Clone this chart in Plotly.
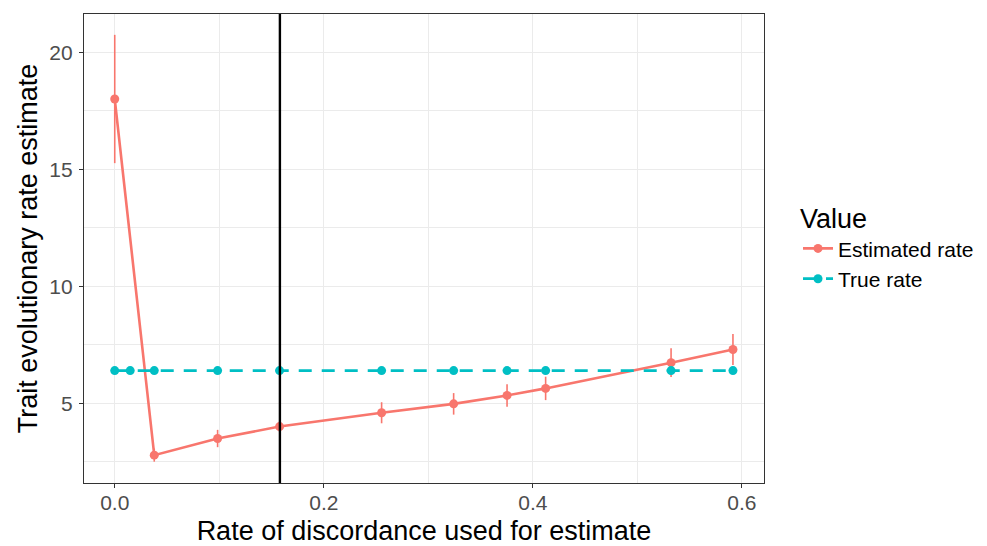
import plotly.graph_objects as go

# ---- data ----
est_x = [0.0, 0.0378, 0.0984, 0.1577, 0.2553, 0.3242, 0.3753, 0.4122, 0.5322, 0.5914]
est_y = [18.0, 2.79, 3.50, 4.01, 4.60, 4.98, 5.34, 5.64, 6.74, 7.30]
est_err = [2.74, 0.28, 0.37, 0.22, 0.45, 0.46, 0.48, 0.50, 0.61, 0.66]

true_x = [0.0, 0.0148, 0.0378, 0.0984, 0.1577, 0.2553, 0.3242, 0.3753, 0.4122, 0.5322, 0.5914]
true_y = [6.4] * len(true_x)

chosen_rate = 0.158

x_ticks = [0.0, 0.2, 0.4, 0.6]
x_ticklabels = ["0.0", "0.2", "0.4", "0.6"]
y_ticks = [5, 10, 15, 20]

RED = "#F8766D"
TEAL = "#00BFC4"
FONT = "Liberation Sans, Arial, Helvetica, sans-serif"

fig = go.Figure()
fig.add_trace(go.Scatter(
    x=est_x, y=est_y, name="Estimated rate", mode="lines+markers",
    line=dict(color=RED, width=2.6),
    marker=dict(color=RED, size=9),
    error_y=dict(type="data", array=est_err, visible=True, color=RED, thickness=1.6, width=0),
))
fig.add_trace(go.Scatter(
    x=true_x, y=true_y, name="True rate", mode="lines+markers",
    line=dict(color=TEAL, width=2.8, dash="13px,10px"),
    marker=dict(color=TEAL, size=9),
))

fig.add_shape(type="line", x0=chosen_rate, x1=chosen_rate, y0=0, y1=1,
              xref="x", yref="paper", line=dict(color="black", width=2.4), layer="above")

axis_common = dict(
    showline=True, mirror=True, linecolor="#333333", linewidth=1.3,
    ticks="outside", ticklen=4, tickwidth=1.3, tickcolor="#333333",
    showgrid=True, gridcolor="#EBEBEB", gridwidth=1.3,
    zeroline=False, automargin=False,
    tickfont=dict(family=FONT, size=21, color="#4D4D4D"),
)

fig.update_xaxes(
    **axis_common,
    range=[-0.0294, 0.6211],
    tickvals=x_ticks, ticktext=x_ticklabels,
    ticklabelstandoff=-3,
    minor=dict(tickvals=[0.1, 0.3, 0.5], showgrid=True, gridcolor="#EBEBEB", gridwidth=0.7, ticks=""),
    title=dict(text="Rate of discordance used for estimate", font=dict(family=FONT, size=27, color="black"), standoff=7),
)
fig.update_yaxes(
    **axis_common,
    range=[1.60, 21.63],
    tickvals=y_ticks,
    ticklabelstandoff=2,
    minor=dict(tickvals=[2.5, 7.5, 12.5, 17.5], showgrid=True, gridcolor="#EBEBEB", gridwidth=0.7, ticks=""),
    title=dict(text="Trait evolutionary rate estimate", font=dict(family=FONT, size=27, color="black"), standoff=3),
)

fig.update_layout(
    width=987, height=546,
    margin=dict(l=76, r=231, t=6, b=71),
    paper_bgcolor="white", plot_bgcolor="white",
    font=dict(family=FONT),
    legend=dict(
        title=dict(text="Value", font=dict(family=FONT, size=27, color="black")),
        font=dict(family=FONT, size=21, color="black"),
        x=1.05, xanchor="left", y=0.618, yanchor="top",
        tracegroupgap=0, itemwidth=30,
    ),
)

fig.write_html("out.html")
